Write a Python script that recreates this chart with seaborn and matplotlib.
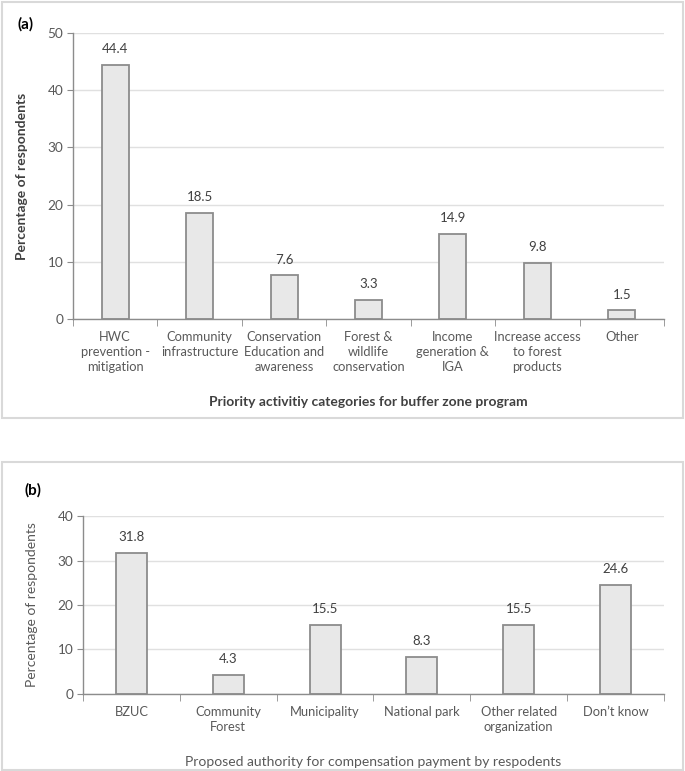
import matplotlib
matplotlib.use("Agg")
import matplotlib.pyplot as plt
import seaborn as sns
import pandas as pd
from matplotlib.patches import Rectangle
from matplotlib.ticker import FixedLocator, NullFormatter

# panel (a)
cats_a = ["HWC\nprevention -\nmitigation", "Community\ninfrastructure",
          "Conservation\nEducation and\nawareness", "Forest &\nwildlife\nconservation",
          "Income\ngeneration &\nIGA", "Increase access\nto forest\nproducts", "Other"]
vals_a = [44.4, 18.5, 7.6, 3.3, 14.9, 9.8, 1.5]

# panel (b)
cats_b = ["BZUC", "Community\nForest", "Municipality", "National park",
          "Other related\norganization", "Don\u2019t know"]
vals_b = [31.8, 4.3, 15.5, 8.3, 15.5, 24.6]

sns.set_style("white")
plt.rcParams["font.family"] = ["Lato", "DejaVu Sans"]

fig = plt.figure(figsize=(6.85, 7.71), dpi=100)

# panel frames
for y0, h in [(0.4578, 0.5396), (0.0013, 0.3995)]:
    fig.patches.append(Rectangle((0.003, y0), 0.994, h, transform=fig.transFigure,
                                 fill=False, edgecolor="#d9d9d9", linewidth=1.5))

txt = "#595959"


def panel(ax, cats, vals, ymax, xlabel, bold):
    df = pd.DataFrame({"cat": cats, "val": vals})
    sns.barplot(data=df, x="cat", y="val", ax=ax, color="#e8e8e8", saturation=1,
                edgecolor="#8c8c8c", linewidth=1.3, width=0.32)
    ax.bar_label(ax.containers[0], fmt="%.1f", padding=7, fontsize=9.5, color="#404040")
    n = len(cats)
    ax.set_xlim(-0.5, n - 0.5)
    ax.set_ylim(0, ymax)
    ax.set_yticks(range(0, ymax + 1, 10))
    ax.yaxis.grid(True, color="#e0e0e0", linewidth=1)
    ax.set_axisbelow(True)
    for s in ["top", "right"]:
        ax.spines[s].set_visible(False)
    for s in ["left", "bottom"]:
        ax.spines[s].set_color("#8c8c8c")
        ax.spines[s].set_linewidth(1)
    ax.xaxis.set_minor_locator(FixedLocator([i - 0.5 for i in range(n + 1)]))
    ax.xaxis.set_minor_formatter(NullFormatter())
    ax.tick_params(axis="x", which="major", length=0, pad=9, labelsize=9.3, labelcolor=txt)
    ax.tick_params(axis="x", which="minor", length=5, color="#8c8c8c", bottom=True)
    ax.tick_params(axis="y", length=4, color="#8c8c8c", left=True, labelsize=9.8,
                   labelcolor=txt, pad=3)
    for lab in ax.get_xticklabels():
        lab.set_linespacing(1.3)
    w = "bold" if bold else "normal"
    c = "#404040" if bold else txt
    ax.set_xlabel(xlabel, fontsize=10, fontweight=w, color=c, labelpad=16)
    ax.set_ylabel("Percentage of respondents", fontsize=10, fontweight=w, color=c,
                  labelpad=14)


ax1 = fig.add_axes([0.1066, 0.5863, 0.8627, 0.3709])
panel(ax1, cats_a, vals_a, 50, "Priority activitiy categories for buffer zone program", True)

ax2 = fig.add_axes([0.1212, 0.0999, 0.8481, 0.2308])
panel(ax2, cats_b, vals_b, 40, "Proposed authority for compensation payment by respodents", False)

fig.text(0.026, 0.969, "(a)", fontsize=11, fontweight="bold", color="black", va="center")
fig.text(0.036, 0.364, "(b)", fontsize=11, fontweight="bold", color="black", va="center")

fig.savefig("out.png", dpi=100)
